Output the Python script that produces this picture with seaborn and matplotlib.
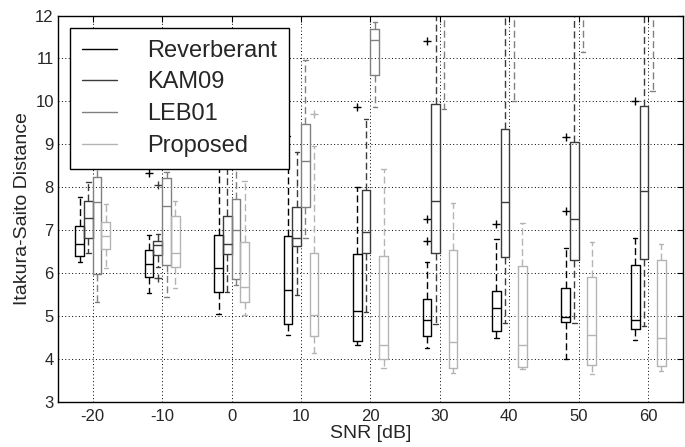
import matplotlib
matplotlib.use("Agg")
import matplotlib.pyplot as plt
from matplotlib.lines import Line2D
import seaborn as sns
import pandas as pd


snr_labels = ["-20", "-10", "0", "10", "20", "30", "40", "50", "60"]
methods = ["Reverberant", "KAM09", "LEB01", "Proposed"]
colors = ["#000000", "#3c3c3c", "#808080", "#b4b4b4"]

# (lower whisker, q1, median, q3, upper whisker) per SNR
reverberant = [
    (6.25, 6.40, 6.67, 7.10, 7.78),
    (5.54, 5.92, 6.21, 6.54, 6.88),
    (5.06, 5.57, 6.11, 6.90, 8.80),
    (4.55, 4.81, 5.61, 6.87, 9.20),
    (4.32, 4.42, 5.12, 6.45, 8.00),
    (4.26, 4.53, 4.91, 5.40, 6.27),
    (4.48, 4.65, 5.20, 5.59, 6.79),
    (4.01, 4.87, 4.98, 5.65, 6.58),
    (4.44, 4.71, 4.92, 6.19, 6.83),
]
reverberant_out = [[], [8.34], [], [], [9.86], [6.76, 7.25, 11.41], [7.14], [7.45, 9.18], [10.0]]

kam09 = [
    (6.46, 6.83, 7.29, 7.67, 8.12),
    (6.14, 6.42, 6.66, 6.76, 6.91),
    (5.57, 6.44, 6.69, 7.32, 8.60),
    (5.48, 6.64, 6.83, 7.55, 8.82),
    (5.09, 6.48, 6.95, 7.94, 9.58),
    (4.81, 6.48, 7.67, 9.94, 13.0),
    (4.83, 6.38, 7.65, 9.35, 13.0),
    (4.84, 6.31, 7.25, 9.06, 12.8),
    (4.77, 6.34, 7.91, 9.90, 13.0),
]
kam09_out = [[], [5.88, 8.05], [], [], [], [], [], [], []]

leb01 = [
    (5.33, 5.98, 7.65, 8.25, 9.60),
    (5.44, 6.18, 7.56, 8.22, 8.36),
    (5.72, 5.86, 7.00, 7.72, 9.30),
    (6.83, 7.53, 8.61, 9.47, 10.96),
    (9.88, 10.61, 11.43, 11.68, 11.84),
    (9.83, 12.40, 13.20, 14.40, 15.50),
    (10.01, 12.50, 13.30, 14.50, 15.60),
    (11.16, 12.60, 13.40, 14.60, 15.70),
    (10.25, 12.40, 13.10, 14.30, 15.40),
]
leb01_out = [[], [], [], [], [], [], [], [], []]

proposed = [
    (6.13, 6.56, 6.87, 7.18, 7.60),
    (5.65, 6.14, 6.48, 7.32, 7.68),
    (5.02, 5.33, 5.68, 6.72, 8.14),
    (4.14, 4.53, 5.02, 6.46, 8.97),
    (3.78, 4.00, 4.32, 6.40, 8.42),
    (3.68, 3.78, 4.40, 6.55, 7.63),
    (3.76, 3.82, 4.32, 6.17, 7.16),
    (3.66, 3.86, 4.57, 5.90, 6.72),
    (3.72, 3.83, 4.48, 6.31, 6.67),
]
proposed_out = [[], [], [], [9.71], [], [], [], [], []]


def expand(stats, outliers, h=8):
    # build a small sample whose quartiles / whiskers reproduce the box
    lo, q1, med, q3, hi = stats
    lows = [v for v in outliers if v < med]
    highs = [v for v in outliers if v > med]
    return (lows + [lo] + [q1] * (h - len(lows) - 1) + [med]
            + [q3] * (h - len(highs) - 1) + [hi] + highs)


rows = []
series = [(reverberant, reverberant_out), (kam09, kam09_out),
          (leb01, leb01_out), (proposed, proposed_out)]
for name, (stats, outs) in zip(methods, series):
    for snr, st, out in zip(snr_labels, stats, outs):
        for v in expand(st, out):
            rows.append({"SNR": snr, "Distance": v, "Method": name})
df = pd.DataFrame(rows)

sns.set_style("white")
plt.rcParams["font.family"] = ["Liberation Sans", "DejaVu Sans"]

fig = plt.figure(figsize=(6.85, 4.47), dpi=100)
ax = fig.add_axes([0.0847, 0.1007, 0.9123, 0.8646])

sns.boxplot(data=df, x="SNR", y="Distance", hue="Method", order=snr_labels,
            hue_order=methods, palette=dict(zip(methods, colors)), fill=False,
            width=0.5, gap=0, dodge=True, whis=1.5, linewidth=1.0,
            whiskerprops={"linestyle": (0, (5, 2.5))},
            flierprops={"marker": "+", "markersize": 6, "markeredgewidth": 1.0},
            legend=False, ax=ax)

ax.set_xlim(-0.5, 8.5)
ax.set_ylim(3, 12)
ax.set_yticks(range(3, 13))
ax.grid(True, linestyle=(0, (1, 2.5)), color="k", linewidth=0.7)
ax.set_axisbelow(True)
for sp in ax.spines.values():
    sp.set_visible(True)
    sp.set_color("black")
    sp.set_linewidth(1.0)
ax.tick_params(direction="in", length=4, width=0.8, top=True, right=True,
               labelsize=12, color="black")
ax.tick_params(axis="x", pad=5)
ax.tick_params(axis="y", pad=3)
ax.set_xlabel("SNR [dB]", fontsize=14, labelpad=1)
ax.set_ylabel("Itakura-Saito Distance", fontsize=14, labelpad=3)

handles = [Line2D([], [], color=c, linewidth=1.0) for c in colors]
leg = ax.legend(handles, methods, loc="upper left", bbox_to_anchor=(0.0192, 0.9677),
                borderaxespad=0, fontsize=17, frameon=True, fancybox=False,
                framealpha=1, edgecolor="black", handlelength=1.5,
                handletextpad=1.25, labelspacing=0.41, borderpad=0.5)
leg.get_frame().set_linewidth(1.0)

fig.savefig("out.png", dpi=100)
